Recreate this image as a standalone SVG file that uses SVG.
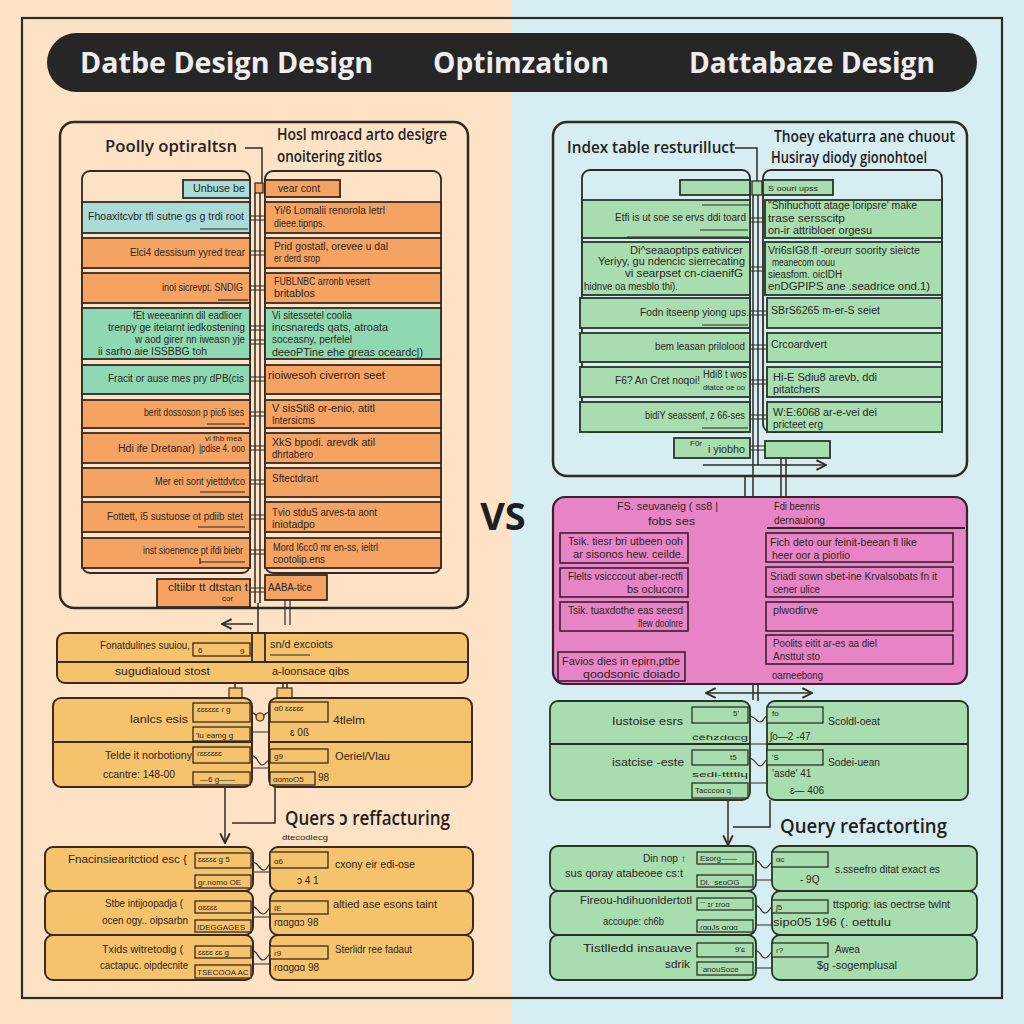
<svg xmlns="http://www.w3.org/2000/svg" width="1024" height="1024" viewBox="0 0 1024 1024">
<defs>
<style>
.pan{fill:none;stroke:#2f2a26;stroke-width:2.5}
.fr{fill:none;stroke:#2f2a26;stroke-width:1.8}
.ln{fill:none;stroke:#2f2a26;stroke-width:1.5}
.sb{fill:none;stroke:#2f2a26;stroke-width:1.2}
.o{fill:#f5a363;stroke:#3b2a1f;stroke-width:1.8}
.b{fill:#a9dbd7;stroke:#2f2a26;stroke-width:1.8}
.m{fill:#8fd9b2;stroke:#2f2a26;stroke-width:1.8}
.y{fill:#f6c36d;stroke:#3b2a1f;stroke-width:2}
.yi{fill:#f6c36d;stroke:#3b2a1f;stroke-width:1.3}
.g{fill:#a8ddaf;stroke:#2a3328;stroke-width:1.8}
.gi{fill:#a8ddaf;stroke:#2a3328;stroke-width:1.3}
.p{fill:#e784c5;stroke:#3a1f30;stroke-width:2.2}
.pb{fill:#e784c5;stroke:#3a1f30;stroke-width:1.6}
.t{font-family:"Liberation Sans",Arial,sans-serif;font-size:10px;fill:#2b2521}
.s{font-family:"Liberation Sans",Arial,sans-serif;font-size:8px;fill:#2b2521}
.e{text-anchor:end}
.hd{font-family:"Open Sans","Noto Sans",sans-serif;font-weight:700;font-size:28px;fill:#eeeeee}
.ti{font-family:"Open Sans","Noto Sans",sans-serif;font-weight:600;font-size:17px;fill:#222222}
.qt{font-family:"Open Sans","Noto Sans",sans-serif;font-weight:600;font-size:19px;fill:#1f1f1f}
</style>
<marker id="ah" viewBox="0 0 10 10" refX="9" refY="5" markerWidth="8" markerHeight="8" orient="auto-start-reverse"><path d="M1,1 L9,5 L1,9" fill="none" stroke="#2f2a26" stroke-width="1.6"/></marker>
</defs>

<rect x="0" y="0" width="512" height="1024" fill="#fde2c6"/>
<rect x="512" y="0" width="512" height="1024" fill="#d6edf1"/>
<rect x="22" y="18" width="980" height="980" fill="none" stroke="#2a2a2a" stroke-width="2.2"/>

<g id="header">
<rect x="47" y="33" width="930" height="59" rx="29.5" fill="#262626"/>
<text class="hd" x="80" y="73" textLength="293" lengthAdjust="spacingAndGlyphs">Datbe Design Design</text>
<text class="hd" x="433" y="73" textLength="176" lengthAdjust="spacingAndGlyphs">Optimzation</text>
<text class="hd" x="689" y="73" textLength="246" lengthAdjust="spacingAndGlyphs">Dattabaze Design</text>
</g>

<text x="503" y="530" text-anchor="middle" font-family="Open Sans, Noto Sans, sans-serif" font-weight="700" font-size="38" fill="#1e1e1e">VS</text>

<!-- LEFT PANEL -->
<g id="left-panel">
<rect class="pan" x="60" y="122" width="408" height="486" rx="14"/>
<text class="ti" x="105" y="152" textLength="132" lengthAdjust="spacingAndGlyphs">Poolly optiraltsn</text>
<text class="ti" x="277" y="140" textLength="170" lengthAdjust="spacingAndGlyphs">Hosl mroacd arto desigre</text>
<text class="ti" x="277" y="162" textLength="105" lengthAdjust="spacingAndGlyphs">onoitering zitlos</text>
<rect class="fr" x="82" y="171" width="168" height="402" rx="8"/>
<rect class="fr" x="265" y="171" width="176" height="402" rx="8"/>
</g>

<g id="connectors">
<path class="ln" d="M245,148 H262 V183"/>
<rect x="255" y="183" width="8" height="10" fill="#f5a363" stroke="#2f2a26" stroke-width="1.3"/>
<path class="ln" d="M255,193 V603 M260,193 V603 M258,603 V673"/>
<path class="sb" d="M250,216 H265 M250,220 H265 M250,251 H265 M250,255 H265 M250,286 H265 M250,290 H265 M250,326 H265 M250,330 H265 M250,340 H265 M250,344 H265 M250,377 H265 M250,381 H265 M250,412 H265 M250,416 H265 M250,446 H265 M250,450 H265 M250,480 H265 M250,484 H265 M250,515 H265 M250,519 H265 M250,550 H265 M250,554 H265 M246,588 H265 M246,592 H265"/>
<path class="sb" d="M285,600 V625 M290,600 V625"/>
<path class="ln" d="M253,624 H222" marker-end="url(#ah)"/>
<path class="ln" d="M235,662 V688 M283,675 V688 M287,675 V688"/>
<rect x="229" y="688" width="13" height="10" fill="#f6c36d" stroke="#3b2a1f" stroke-width="1.2"/>
<rect x="277" y="688" width="15" height="10" fill="#f6c36d" stroke="#3b2a1f" stroke-width="1.2"/>
<path class="ln" d="M225,787 V843" marker-end="url(#ah)"/>
<path class="ln" d="M275,787 V823 H232"/>
<path class="sb" d="M250,712 C256,712 256,718 260,718 C264,718 264,712 270,712 M250,732 H270 M250,755 C258,755 258,765 262,765 C266,765 266,760 270,760 M250,768 H270"/>
<circle cx="260" cy="717" r="4" fill="#f6c36d" stroke="#2f2a26" stroke-width="1.2"/>
<path class="sb" d="M251,862 C260,862 258,870 264,870 C268,870 268,864 270,864 M251,872 H270 M251,906 C258,906 258,914 263,914 C267,914 268,908 270,908 M251,917 H270 M251,950 C258,950 258,960 263,960 C267,960 268,954 270,954 M251,964 H270"/>
<path class="sb" d="M190,856 V870 M193,858 V872 M188,900 V912 M188,946 V958"/>
<path class="ln" d="M735,148 H757 V185"/>
<rect x="752" y="181" width="10" height="14" fill="#a8ddaf" stroke="#2f2a26" stroke-width="1.3"/>
<path class="ln" d="M753,195 V700 M758,195 V465"/>
<path class="sb" d="M750,218 H765 M750,222 H765 M750,267 H765 M750,271 H765 M750,311 H767 M750,315 H767 M750,345 H767 M750,349 H767 M750,380 H767 M750,384 H767 M750,415 H767 M750,419 H767 M750,446 H765 M750,450 H765"/>
<path class="ln" d="M703,465 H826" marker-end="url(#ah)"/>
<path class="ln" d="M781,458 V500 M786,458 V500 M745,476 V497"/>
<path class="sb" d="M718,500 V525 M722,520 H748 V512 H753"/>
<path class="sb" d="M690,545 H714 V552 M696,549 H708 M728,543 H746 V552 M744,545 H766 M744,549 H766"/>
<path class="sb" d="M690,580 H714 V588 M696,584 H708 M728,578 H746 V588 M744,580 H766 M744,584 H766"/>
<path class="sb" d="M690,613 H714 V619 M696,616 H708 M728,612 H746 V619 M744,614 H766 M744,618 H766"/>
<path class="sb" d="M686,658 H722 M744,645 H766 M744,649 H766 M744,675 H766"/>
<rect x="688" y="638" width="22" height="9" fill="none" stroke="#3a1f30" stroke-width="1.2"/>
<rect x="716" y="638" width="26" height="9" fill="none" stroke="#3a1f30" stroke-width="1.2"/>
<path class="ln" d="M758,684 V701"/>
<path class="ln" d="M706,693 H812" marker-start="url(#ah)" marker-end="url(#ah)"/>
<path class="sb" d="M748,716 C756,716 756,722 760,722 C764,722 764,716 767,716 M748,744 H767 M748,758 C756,758 756,766 760,766 C764,766 764,760 767,760 M748,783 H767"/>
<path class="ln" d="M728,800 V845" marker-end="url(#ah)"/>
<path class="ln" d="M770,800 V827 H733"/>
<path class="sb" d="M688,856 V878 H697 M753,860 C762,860 760,868 765,868 C769,868 770,862 772,862 M753,880 H772 M753,905 C762,905 760,913 765,913 C769,913 770,907 772,907 M753,925 H772 M753,950 C762,950 760,958 765,958 C769,958 770,952 772,952 M753,968 H772"/>
</g>

<g id="l-r0">
<rect class="b" x="183" y="180" width="67" height="18"/>
<text class="t e" x="245" y="192" textLength="52" lengthAdjust="spacingAndGlyphs">Unbuse be</text>
<rect class="o" x="265" y="180" width="75" height="17"/>
<text class="t" x="278" y="192" textLength="42" lengthAdjust="spacingAndGlyphs">vear cont</text>
</g>
<g id="l-r1">
<rect class="b" x="82" y="202" width="168" height="31"/>
<text class="t e" x="244" y="220" textLength="156" lengthAdjust="spacingAndGlyphs">Fhoaxitcvbr tfi  sutne gs g trdi root</text>
<path class="sb" d="M200,229 H248"/>
<rect class="o" x="265" y="202" width="176" height="31"/>
<text class="t" x="274" y="214" textLength="111" lengthAdjust="spacingAndGlyphs">Yi/6 Lomalii  renorola letrl</text>
<text class="t" x="274" y="227" textLength="51" lengthAdjust="spacingAndGlyphs">dieee.tipnps.</text>
</g>
<g id="l-r2">
<rect class="o" x="82" y="238" width="168" height="30"/>
<text class="t e" x="245" y="256" textLength="115" lengthAdjust="spacingAndGlyphs">Elci4  dessisum yyred trear</text>
<rect class="o" x="265" y="238" width="176" height="30"/>
<text class="t" x="274" y="250" textLength="114" lengthAdjust="spacingAndGlyphs">Prid gostatl,  orevee u dal</text>
<text class="t" x="274" y="262" textLength="46" lengthAdjust="spacingAndGlyphs">er derd srop</text>
</g>
<g id="l-r3">
<rect class="o" x="82" y="273" width="168" height="30"/>
<text class="t e" x="243" y="291" textLength="81" lengthAdjust="spacingAndGlyphs">inoi sicrevpt. SNDIG</text>
<path class="sb" d="M218,300 H248"/>
<rect class="o" x="265" y="273" width="176" height="30"/>
<text class="t" x="274" y="285" textLength="96" lengthAdjust="spacingAndGlyphs">FUBLNBC  arronb vesert</text>
<text class="t" x="274" y="297" textLength="41" lengthAdjust="spacingAndGlyphs">britablos</text>
</g>
<g id="l-r4">
<rect class="m" x="82" y="308" width="168" height="51"/>
<text class="t e" x="242" y="319" textLength="109" lengthAdjust="spacingAndGlyphs">fEt weeeaninn dil eadlioer</text>
<text class="t e" x="245" y="331" textLength="137" lengthAdjust="spacingAndGlyphs">trenpy  ge iteiarnt iedkostening</text>
<text class="t e" x="245" y="343" textLength="110" lengthAdjust="spacingAndGlyphs">w  aod girer  nn iweasn yje</text>
<text class="t e" x="207" y="355" textLength="109" lengthAdjust="spacingAndGlyphs">ii sarho   aie ISSBBG  toh</text>
<rect class="m" x="265" y="308" width="176" height="51"/>
<text class="t" x="272" y="319" textLength="80" lengthAdjust="spacingAndGlyphs">Vi sitessetel  coolia</text>
<text class="t" x="272" y="331" textLength="116" lengthAdjust="spacingAndGlyphs">incsnareds   qats,  atroata</text>
<text class="t" x="272" y="343" textLength="80" lengthAdjust="spacingAndGlyphs">soceasny,  perfelel</text>
<text class="t" x="272" y="356" textLength="151" lengthAdjust="spacingAndGlyphs">deeoPTine ehe   greas oceardc|)</text>
</g>
<g id="l-r5">
<rect class="m" x="82" y="365" width="168" height="29"/>
<text class="t e" x="244" y="382" textLength="136" lengthAdjust="spacingAndGlyphs">Fracit or ause mes pry dPB(cis</text>
<rect class="o" x="265" y="365" width="176" height="29"/>
<text class="t" x="268" y="379" textLength="117" lengthAdjust="spacingAndGlyphs">rioiwesoh   civerron  seet</text>
</g>
<g id="l-r6">
<rect class="o" x="82" y="400" width="168" height="28"/>
<text class="t e" x="244" y="416" textLength="100" lengthAdjust="spacingAndGlyphs">berit dossoson p pic6 ises</text>
<path class="sb" d="M207,424 H245"/>
<rect class="o" x="265" y="400" width="176" height="28"/>
<text class="t" x="272" y="412" textLength="103" lengthAdjust="spacingAndGlyphs">V sisSti8  or-enio, atitl</text>
<text class="t" x="272" y="424" textLength="43" lengthAdjust="spacingAndGlyphs">Intersicms</text>
</g>
<g id="l-r7">
<rect class="o" x="82" y="433" width="168" height="30"/>
<text class="s" x="205" y="441">vi fhb mea</text>
<text class="t" x="118" y="452" textLength="77" lengthAdjust="spacingAndGlyphs">Hdi ife  Dretanar)</text>
<text class="t" x="199" y="452" textLength="46" lengthAdjust="spacingAndGlyphs">|pdise 4. ooo</text>
<rect class="o" x="265" y="433" width="176" height="30"/>
<text class="t" x="272" y="446" textLength="103" lengthAdjust="spacingAndGlyphs">XkS bpodi. arevdk  atil</text>
<text class="t" x="272" y="458" textLength="41" lengthAdjust="spacingAndGlyphs">dhrtabero</text>
</g>
<g id="l-r8">
<rect class="o" x="82" y="468" width="168" height="29"/>
<text class="t e" x="245" y="485" textLength="90" lengthAdjust="spacingAndGlyphs">Mer eri sont yiettdvtco</text>
<path class="sb" d="M200,492 H245"/>
<rect class="o" x="265" y="468" width="176" height="29"/>
<text class="t" x="272" y="482" textLength="46" lengthAdjust="spacingAndGlyphs">Sftectdrart</text>
</g>
<g id="l-r9">
<rect class="o" x="82" y="502" width="168" height="30"/>
<text class="t e" x="243" y="520" textLength="136" lengthAdjust="spacingAndGlyphs">Fottett, i5  sustuose ot pdiib stet</text>
<path class="sb" d="M198,527 H245"/>
<rect class="o" x="265" y="502" width="176" height="30"/>
<text class="t" x="272" y="516" textLength="105" lengthAdjust="spacingAndGlyphs">Tvio stduS  arves-ta aont</text>
<text class="t" x="272" y="528" textLength="43" lengthAdjust="spacingAndGlyphs">iniotadpo</text>
</g>
<g id="l-r10">
<rect class="o" x="82" y="538" width="168" height="30"/>
<text class="t e" x="243" y="554" textLength="100" lengthAdjust="spacingAndGlyphs">inst sioenence pt ifdi biebr</text>
<path class="sb" d="M200,562 H245 M200,558 V564"/>
<rect class="o" x="265" y="538" width="176" height="30"/>
<text class="t" x="273" y="551" textLength="105" lengthAdjust="spacingAndGlyphs">Mord l6cc0  mr en-ss, ieitrl</text>
<text class="t" x="273" y="563" textLength="52" lengthAdjust="spacingAndGlyphs">cootolip.ens</text>
</g>
<g id="l-r11">
<rect class="o" x="157" y="579" width="93" height="28"/>
<text class="t" x="168" y="591" textLength="80" lengthAdjust="spacingAndGlyphs">cltiibr tt dtstan t</text>
<text class="s" x="222" y="601">cor</text>
<rect class="o" x="265" y="575" width="62" height="25"/>
<text class="t" x="268" y="591" textLength="44" lengthAdjust="spacingAndGlyphs">AABA-tice</text>
</g>

<g id="l-box-a">
<rect class="y" x="57" y="633" width="411" height="50" rx="8"/>
<path class="fr" d="M57,662 H468 M252,633 V662 M265,633 V662"/>
<text class="t e" x="190" y="649" textLength="90" lengthAdjust="spacingAndGlyphs">Fonatdulines suuiou,</text>
<rect class="yi" x="193" y="643" width="57" height="13"/>
<text class="s" x="198" y="653">6</text>
<text class="s" x="240" y="654">9</text>
<text class="t" x="270" y="648" textLength="63" lengthAdjust="spacingAndGlyphs">sn/d excoiots</text>
<path class="sb" d="M270,655 H310"/>
<text class="t e" x="210" y="675" textLength="95" lengthAdjust="spacingAndGlyphs">sugudialoud stost</text>
<text class="t" x="272" y="675" textLength="77" lengthAdjust="spacingAndGlyphs">a-loonsace qibs</text>
</g>
<g id="l-box-b">
<rect class="y" x="53" y="698" width="199" height="89" rx="8"/>
<rect class="y" x="269" y="698" width="203" height="89" rx="8"/>
<path class="fr" d="M53,742 H252 M269,742 H472"/>
<text class="t e" x="188" y="723" textLength="58" lengthAdjust="spacingAndGlyphs">lanlcs  esis</text>
<rect class="yi" x="193" y="703" width="57" height="19"/>
<text class="s" x="197" y="712">ɛɛɛɛɛɛ ɾ ɡ</text>
<rect class="yi" x="193" y="727" width="57" height="14"/>
<text class="s" x="196" y="738">'luˈeamg g</text>
<rect class="yi" x="270" y="702" width="58" height="20"/>
<text class="s" x="274" y="711">ɑ0 ɛɛɛɛɛ</text>
<text class="t" x="290" y="736">ɛ  0ß</text>
<text class="t" x="333" y="724" textLength="32" lengthAdjust="spacingAndGlyphs">4tlelm</text>
<text class="t e" x="192" y="759" textLength="87" lengthAdjust="spacingAndGlyphs">Telde it norbotiony</text>
<text class="t" x="103" y="778" textLength="72" lengthAdjust="spacingAndGlyphs">ccantre: 148-00</text>
<rect class="yi" x="193" y="747" width="57" height="16"/>
<text class="s" x="197" y="756">ɾɛɛɛɛɛɛ</text>
<rect class="yi" x="193" y="772" width="57" height="13"/>
<text class="s" x="200" y="782">—6 ɡ——</text>
<rect class="yi" x="270" y="749" width="58" height="14"/>
<text class="s" x="274" y="759">ɡ9</text>
<text class="t" x="335" y="760" textLength="55" lengthAdjust="spacingAndGlyphs">Oeriel/Vlau</text>
<rect class="yi" x="270" y="772" width="45" height="13"/>
<text class="s" x="273" y="782">ɑɑmoO5</text>
<text class="t" x="318" y="781">98</text>
</g>
<g id="l-title-q">
<text class="qt" x="285" y="825" textLength="165" lengthAdjust="spacingAndGlyphs">Quers ɔ reffacturing</text>
<text class="s" x="282" y="840" textLength="46" lengthAdjust="spacingAndGlyphs">dtecodlecg</text>
</g>
<g id="l-box-c">
<rect class="y" x="45" y="847" width="208" height="44" rx="8"/>
<rect class="y" x="45" y="891" width="208" height="44" rx="8"/>
<rect class="y" x="45" y="935" width="208" height="45" rx="8"/>
<rect class="y" x="270" y="847" width="203" height="44" rx="8"/>
<rect class="y" x="270" y="891" width="203" height="44" rx="8"/>
<rect class="y" x="270" y="935" width="203" height="45" rx="8"/>
<text class="t e" x="187" y="863" textLength="119" lengthAdjust="spacingAndGlyphs">Fnacinsiearitctiod  esc {</text>
<rect class="yi" x="195" y="853" width="56" height="15"/>
<text class="s" x="198" y="862">ɛɛɛɛɛ ɡ 5</text>
<rect class="yi" x="195" y="875" width="56" height="13"/>
<text class="s" x="198" y="885">ɡɾ.nomo OE</text>
<rect class="yi" x="270" y="852" width="58" height="16"/>
<text class="s" x="274" y="864">ɑ6</text>
<text class="t" x="297" y="884">ɔ   4 1</text>
<text class="t" x="335" y="868" textLength="80" lengthAdjust="spacingAndGlyphs">cxony eir edi-ose</text>
<text class="t e" x="183" y="907" textLength="78" lengthAdjust="spacingAndGlyphs">Stbe intijoopadja (</text>
<text class="t e" x="188" y="924" textLength="86" lengthAdjust="spacingAndGlyphs">ocen ogy.. oipsarbn</text>
<rect class="yi" x="195" y="901" width="56" height="12"/>
<text class="s" x="198" y="910">ɑɛɛɛɛ</text>
<rect class="yi" x="195" y="920" width="56" height="12"/>
<text class="s" x="197" y="930">IDEGGAGES</text>
<rect class="yi" x="270" y="901" width="58" height="13"/>
<text class="s" x="274" y="911">IE</text>
<text class="t" x="274" y="926">ɾɑɑɡɑɔ   98</text>
<text class="t" x="333" y="908" textLength="104" lengthAdjust="spacingAndGlyphs">altied ase esons taint</text>
<text class="t e" x="183" y="953" textLength="81" lengthAdjust="spacingAndGlyphs">Txids witretodig (</text>
<text class="t e" x="188" y="969" textLength="88" lengthAdjust="spacingAndGlyphs">cactapuc. oipdecnite</text>
<rect class="yi" x="195" y="946" width="56" height="12"/>
<text class="s" x="198" y="955">ɛɛɛɛ ɛɛ ɡ</text>
<rect class="yi" x="195" y="965" width="56" height="13"/>
<text class="s" x="197" y="975">TSECOOA AC</text>
<rect class="yi" x="270" y="946" width="58" height="13"/>
<text class="s" x="274" y="956">ɾ9</text>
<text class="t" x="274" y="971">ɾɑɑɡɑɑ   98</text>
<text class="t" x="335" y="953" textLength="77" lengthAdjust="spacingAndGlyphs">Sterlidr ree fadaut</text>
</g>

<g id="right-panel">
<rect class="pan" x="553" y="122" width="414" height="354" rx="14"/>
<text class="ti" x="567" y="153" textLength="168" lengthAdjust="spacingAndGlyphs">Index table resturilluct</text>
<text class="ti" x="774" y="142" textLength="181" lengthAdjust="spacingAndGlyphs">Thoey ekaturra ane chuout</text>
<text class="ti" x="771" y="163" textLength="156" lengthAdjust="spacingAndGlyphs">Husiray diody gionohtoel</text>
<rect class="fr" x="582" y="170" width="168" height="262" rx="8"/>
<rect class="fr" x="763" y="170" width="179" height="262" rx="8"/>
</g>
<g id="r-r0">
<rect class="g" x="680" y="180" width="70" height="15"/>
<rect class="g" x="763" y="180" width="70" height="15"/>
<text class="s" x="768" y="191" textLength="50" lengthAdjust="spacingAndGlyphs">S oouri upss</text>
</g>
<g id="r-r1">
<rect class="g" x="582" y="200" width="168" height="38"/>
<path class="sb" d="M702,205 H750 M700,230 H748 M627,237 H748"/>
<text class="t e" x="746" y="221" textLength="131" lengthAdjust="spacingAndGlyphs">Etfi is ut soe se ervs ddi toard</text>
<rect class="g" x="765" y="200" width="177" height="38"/>
<text class="t" x="768" y="209" textLength="149" lengthAdjust="spacingAndGlyphs">"Shihuchott atage loripsre' make</text>
<text class="t" x="768" y="222" textLength="77" lengthAdjust="spacingAndGlyphs">trase sersscitp</text>
<text class="t" x="768" y="234" textLength="104" lengthAdjust="spacingAndGlyphs">on-ir attribloer orgesu</text>
</g>
<g id="r-r2">
<rect class="g" x="582" y="242" width="168" height="53"/>
<text class="t e" x="743" y="254" textLength="113" lengthAdjust="spacingAndGlyphs">Di^seaaoptips eativicer</text>
<text class="t e" x="745" y="265" textLength="147" lengthAdjust="spacingAndGlyphs">Yeriyy, gu ndencic sierrecating</text>
<text class="t e" x="743" y="277" textLength="118" lengthAdjust="spacingAndGlyphs">vi searpset cn-ciaenifG</text>
<text class="t" x="584" y="290" textLength="94" lengthAdjust="spacingAndGlyphs">hidnve  oa mesblo thi).</text>
<rect class="g" x="765" y="242" width="177" height="53"/>
<text class="t" x="768" y="254" textLength="152" lengthAdjust="spacingAndGlyphs">Vri6sIG8.fl -oreurr soority sieicte</text>
<text class="t" x="772" y="266" textLength="63" lengthAdjust="spacingAndGlyphs">meanecom  oouu</text>
<text class="t" x="768" y="278" textLength="74" lengthAdjust="spacingAndGlyphs">sieasfom. oicIDH</text>
<text class="t" x="768" y="290" textLength="162" lengthAdjust="spacingAndGlyphs">enDGPIPS ane .seadrice ond.1)</text>
</g>
<g id="r-r3">
<rect class="g" x="580" y="298" width="170" height="30"/>
<text class="t e" x="749" y="316" textLength="109" lengthAdjust="spacingAndGlyphs">Fodn itseenp yiong ups.</text>
<path class="sb" d="M702,325 H748"/>
<rect class="g" x="767" y="298" width="175" height="30"/>
<text class="t" x="771" y="314" textLength="109" lengthAdjust="spacingAndGlyphs">SBrS6265  m-er-S seiet</text>
</g>
<g id="r-r4">
<rect class="g" x="580" y="333" width="170" height="29"/>
<text class="t e" x="745" y="350" textLength="90" lengthAdjust="spacingAndGlyphs">bem leasan prilolood</text>
<rect class="g" x="767" y="333" width="175" height="29"/>
<text class="t" x="771" y="348" textLength="56" lengthAdjust="spacingAndGlyphs">Crcoardvert</text>
</g>
<g id="r-r5">
<rect class="g" x="580" y="367" width="170" height="30"/>
<text class="t" x="615" y="384" textLength="85" lengthAdjust="spacingAndGlyphs">F6? An Cret noqoi!</text>
<text class="t" x="703" y="378" textLength="44" lengthAdjust="spacingAndGlyphs">Hdi8 t wos</text>
<text class="s" x="703" y="390" textLength="42" lengthAdjust="spacingAndGlyphs">dtatce oe oo</text>
<rect class="g" x="767" y="367" width="175" height="30"/>
<text class="t" x="773" y="381" textLength="104" lengthAdjust="spacingAndGlyphs">Hi-E Sdiu8  arevb, ddi</text>
<text class="t" x="773" y="393" textLength="47" lengthAdjust="spacingAndGlyphs">pitatchers</text>
</g>
<g id="r-r6">
<rect class="g" x="580" y="402" width="170" height="30"/>
<text class="t e" x="745" y="419" textLength="100" lengthAdjust="spacingAndGlyphs">bidiY seassenf, z 66-ses</text>
<path class="sb" d="M702,428 H748"/>
<rect class="g" x="767" y="402" width="175" height="30"/>
<text class="t" x="773" y="416" textLength="104" lengthAdjust="spacingAndGlyphs">W:E:6068  ar-e-vei dei</text>
<text class="t" x="773" y="428" textLength="50" lengthAdjust="spacingAndGlyphs">pricteet erg</text>
</g>
<g id="r-r7">
<rect class="g" x="674" y="438" width="76" height="20"/>
<text class="s" x="690" y="446">F0r</text>
<text class="t" x="708" y="453" textLength="37" lengthAdjust="spacingAndGlyphs">i yiobho</text>
<rect class="g" x="765" y="441" width="65" height="17"/>
</g>

<g id="pink-panel">
<rect class="p" x="553" y="497" width="414" height="187" rx="12"/>
<path class="fr" d="M767,528 H965"/>
<text class="t e" x="718" y="510" textLength="101" lengthAdjust="spacingAndGlyphs">FS. seuvaneig ( ss8 |</text>
<text class="t e" x="695" y="525" textLength="47" lengthAdjust="spacingAndGlyphs">fobs ses</text>
<text class="t" x="774" y="510" textLength="46" lengthAdjust="spacingAndGlyphs">Fdi beenris</text>
<text class="t" x="774" y="524" textLength="51" lengthAdjust="spacingAndGlyphs">dernauiong</text>
</g>
<g id="p-l1">
<rect class="pb" x="560" y="533" width="128" height="30"/>
<text class="t e" x="683" y="545" textLength="115" lengthAdjust="spacingAndGlyphs">Tsik. tiesr bri utbeen ooh</text>
<text class="t e" x="684" y="558" textLength="111" lengthAdjust="spacingAndGlyphs">ar sisonos hew. ceilde.</text>
</g>
<g id="p-l2">
<rect class="pb" x="560" y="568" width="128" height="29"/>
<text class="t e" x="683" y="580" textLength="115" lengthAdjust="spacingAndGlyphs">Flelts vsicccout aber-rectfi</text>
<text class="t e" x="683" y="593" textLength="56" lengthAdjust="spacingAndGlyphs">bs oclucorn</text>
</g>
<g id="p-l3">
<rect class="pb" x="560" y="602" width="128" height="29"/>
<text class="t e" x="683" y="614" textLength="115" lengthAdjust="spacingAndGlyphs">Tsik. tuaxdothe eas seesd</text>
<text class="t e" x="683" y="627" textLength="45" lengthAdjust="spacingAndGlyphs">flew doolnre</text>
</g>
<g id="p-l4">
<rect class="pb" x="558" y="652" width="127" height="29"/>
<text class="t e" x="680" y="665" textLength="118" lengthAdjust="spacingAndGlyphs">Favios dies in epirn,ptbe</text>
<text class="t e" x="680" y="678" textLength="97" lengthAdjust="spacingAndGlyphs">qoodsonic doiado</text>
</g>
<g id="p-r1">
<rect class="pb" x="766" y="533" width="187" height="29"/>
<text class="t" x="770" y="546" textLength="147" lengthAdjust="spacingAndGlyphs">Fich deto our feinit-beean fl like</text>
<text class="t" x="772" y="559" textLength="78" lengthAdjust="spacingAndGlyphs">heer oor a piorlio</text>
</g>
<g id="p-r2">
<rect class="pb" x="766" y="567" width="187" height="30"/>
<text class="t" x="770" y="580" textLength="167" lengthAdjust="spacingAndGlyphs">Sriadi sown sbet-ine Krvalsobats fn it</text>
<text class="t" x="773" y="593" textLength="47" lengthAdjust="spacingAndGlyphs">cener ulice</text>
</g>
<g id="p-r3">
<rect class="pb" x="766" y="602" width="187" height="29"/>
<text class="t" x="773" y="614" textLength="45" lengthAdjust="spacingAndGlyphs">plwodirve</text>
</g>
<g id="p-r4">
<rect class="pb" x="766" y="635" width="187" height="29"/>
<text class="t" x="773" y="647" textLength="104" lengthAdjust="spacingAndGlyphs">Poolits eitit  ar-es aa diel</text>
<text class="t" x="773" y="660" textLength="47" lengthAdjust="spacingAndGlyphs">Ansttut sto</text>
</g>
<text class="t" x="772" y="679" textLength="51" lengthAdjust="spacingAndGlyphs">oarneebong</text>

<g id="r-box-d">
<rect class="g" x="550" y="701" width="200" height="99" rx="8"/>
<rect class="g" x="767" y="701" width="201" height="99" rx="8"/>
<path class="fr" d="M550,744 H750 M767,744 H968"/>
<text class="t e" x="683" y="725" textLength="71" lengthAdjust="spacingAndGlyphs">Iustoise esrs</text>
<rect class="gi" x="692" y="707" width="56" height="16"/>
<text class="s" x="733" y="716">5'</text>
<text class="s" x="692" y="740" textLength="56" lengthAdjust="spacingAndGlyphs">ĉêɦzdɑcg</text>
<rect class="gi" x="767" y="707" width="56" height="16"/>
<text class="s" x="772" y="716">fo</text>
<text class="t" x="770" y="740">ʃo—2  -47</text>
<text class="t" x="828" y="725" textLength="52" lengthAdjust="spacingAndGlyphs">Scoldl-oeat</text>
<text class="t e" x="684" y="766" textLength="72" lengthAdjust="spacingAndGlyphs">isatcise -este</text>
<rect class="gi" x="692" y="750" width="56" height="15"/>
<text class="s" x="730" y="760">t5</text>
<text class="s" x="692" y="777" textLength="56" lengthAdjust="spacingAndGlyphs">sedi-ttttiɥ</text>
<rect class="gi" x="692" y="783" width="56" height="15"/>
<text class="s" x="695" y="793">Tacccoɑ q</text>
<rect class="gi" x="767" y="750" width="56" height="15"/>
<text class="s" x="772" y="760">'S</text>
<text class="t" x="772" y="777">'asde'  41</text>
<text class="t" x="790" y="794">ɛ—  406</text>
<text class="t" x="828" y="766" textLength="52" lengthAdjust="spacingAndGlyphs">Sodei-uean</text>
</g>
<text class="qt" x="780" y="833" textLength="167" lengthAdjust="spacingAndGlyphs">Query refactorting</text>
<g id="r-box-e">
<rect class="g" x="550" y="846" width="206" height="45" rx="8"/>
<rect class="g" x="550" y="891" width="206" height="44" rx="8"/>
<rect class="g" x="550" y="935" width="206" height="45" rx="8"/>
<rect class="g" x="772" y="846" width="205" height="45" rx="8"/>
<rect class="g" x="772" y="891" width="205" height="44" rx="8"/>
<rect class="g" x="772" y="935" width="205" height="45" rx="8"/>
<text class="t" x="643" y="862" textLength="35" lengthAdjust="spacingAndGlyphs">Din nop</text>
<text class="t" x="681" y="862">↑</text>
<text class="t e" x="683" y="877" textLength="118" lengthAdjust="spacingAndGlyphs">sus qoray atabeoee  cs:t</text>
<rect class="gi" x="697" y="852" width="56" height="12"/>
<text class="s" x="700" y="861">Esorg——</text>
<rect class="gi" x="697" y="875" width="56" height="12"/>
<text class="s" x="700" y="885">Dl. ˑseoOG</text>
<rect class="gi" x="772" y="852" width="56" height="15"/>
<text class="s" x="776" y="862">ɑc</text>
<text class="t" x="800" y="883">- 9Q</text>
<text class="t" x="835" y="873" textLength="105" lengthAdjust="spacingAndGlyphs">s.sseefro ditat exact es</text>
<text class="t e" x="692" y="904" textLength="112" lengthAdjust="spacingAndGlyphs">Fireou-hdihuonldertotl</text>
<text class="t" x="603" y="925" textLength="61" lengthAdjust="spacingAndGlyphs">accoupe: ch6b</text>
<rect class="gi" x="697" y="898" width="56" height="12"/>
<text class="s" x="700" y="907">ˉˉ ɪɾ ɪɾoɑ</text>
<rect class="gi" x="697" y="920" width="56" height="12"/>
<text class="s" x="700" y="930">ɾɑɑJs ɑɾɑɑ</text>
<rect class="gi" x="772" y="900" width="56" height="13"/>
<text class="s" x="776" y="910">ʃ5</text>
<text class="t" x="773" y="926" textLength="118" lengthAdjust="spacingAndGlyphs">sipo05   196  (. oettulu</text>
<text class="t" x="833" y="908" textLength="117" lengthAdjust="spacingAndGlyphs">ttsporig: ias oectrse twlnt</text>
<text class="t e" x="692" y="952" textLength="109" lengthAdjust="spacingAndGlyphs">Tistlledd insauave</text>
<text class="t e" x="690" y="968" textLength="25" lengthAdjust="spacingAndGlyphs">sdrik</text>
<rect class="gi" x="697" y="943" width="56" height="14"/>
<text class="s" x="735" y="952">9'ɕ</text>
<rect class="gi" x="697" y="962" width="56" height="13"/>
<text class="s" x="700" y="972">ˈanouSoce</text>
<rect class="gi" x="772" y="943" width="56" height="14"/>
<text class="s" x="776" y="953">ɾ?</text>
<text class="t" x="835" y="953">Awea</text>
<text class="t" x="817" y="969" textLength="80" lengthAdjust="spacingAndGlyphs">$g -sogemplusal</text>
</g>
</svg>
